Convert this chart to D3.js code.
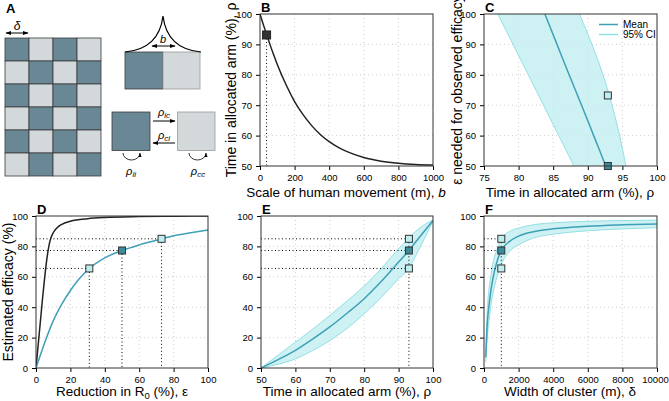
<!DOCTYPE html>
<html><head><meta charset="utf-8">
<script src="https://cdn.jsdelivr.net/npm/d3@7"></script>
<style>
body{margin:0;background:#fff;}
text{font-family:"Liberation Sans",Arial,sans-serif;fill:#000;}
</style></head>
<body><svg id="c" width="669" height="401"></svg>
<script>
// ---------- DATA ----------
// Panel B: time in allocated arm vs scale of human movement
const bMove = [0,20,40,60,80,100,150,200,250,300,350,400,450,500,600,700,800,900,1000];
const rhoB  = [100,96.4,93,89.6,86.4,83.4,76.8,71.2,66.8,63.2,60.3,58,56.2,54.8,52.8,51.6,50.9,50.5,50.3];
const pointB = {b:38, rho:93.1};
// Panel C: epsilon needed vs rho
const epsC      = [50,60,70,80,90,100];
const meanRhoC  = [92.6,90.85,89.1,87.3,85.55,83.8];
const lowRhoC   = [88.0,85.8,83.6,81.4,79.2,77.0];
const highRhoC  = [95.5,94.6,93.5,92.2,90.6,88.8];
const pointsC = [{rho:92.9, eps:73.2, dark:false},{rho:92.9, eps:50, dark:true}];
const legendC = ["Mean","95% CI"];
// Panel D: estimated efficacy vs reduction in R0
const epsBlack = [0,1,2,3,4,5,6,7,8,10,12,15,20,30,40,60,80,100];
const effBlack = [0,12,24,36,48,59,69,77,83,89,92,94.5,96.5,98.2,99,99.6,99.9,100];
const epsTeal  = [0,5,10,15,20,25,31,40,50,60,73,80,90,100];
const effTeal  = [0,16.5,31,42,51,58.5,65.5,72.5,77.3,81,85,87,89,90.8];
const pointsD = [{x:31,y:65.5,dark:false},{x:50,y:77.3,dark:true},{x:73,y:85,dark:false}];
// Panel E: efficacy vs rho
const rhoE  = [50,55,60,65,70,75,80,85,90,93,95,100];
const meanE = [0,5.5,11.6,19,27,36,45.6,57,69.7,77.3,83,97];
const hiE   = [0,8.5,17,25.5,34.6,44,54,65.5,78.5,85.5,90,97.5];
const loE   = [0,2.5,6,11.5,18,26,35.7,46.5,58.8,65.5,74,96.5];
const pointsE = [{x:93,y:85,dark:false},{x:93,y:77.3,dark:true},{x:93,y:65.5,dark:false}];
// Panel F: efficacy vs cluster width
const deltaF = [100,200,300,400,500,750,1000,1500,2000,3000,4000,6000,8000,10000];
const meanF  = [7,31,42,51,58,70,77.3,83.5,86.8,90,91.6,93.3,94.2,94.8];
const hiF    = [10,40,53,61,68,78,85,90,92,94.5,95.5,96.5,97,97.3];
const loF    = [4,21,32,41,48,60,68,77,81,86,88,90.3,91.5,92.3];
const pointsF = [{x:1000,y:85,dark:false},{x:1000,y:77.3,dark:true},{x:1000,y:65.5,dark:false}];
// ticks
const ticksB_x=[0,200,400,600,800,1000], ticksB_y=[50,60,70,80,90,100];
const ticksC_x=[75,80,85,90,95,100], ticksC_y=[50,60,70,80,90,100];
const ticksD_x=[0,20,40,60,80,100], ticksEff=[0,20,40,60,80,100];
const ticksE_x=[50,60,70,80,90,100];
const ticksF_x=[0,2000,4000,6000,8000,10000];

// ---------- STYLE ----------
const TEAL="#3f9fb7", DARKM="#3a8c9c", LIGHTM="#bfeef0", BAND="#c2eff1", BANDEDGE="#93e0e4";
const XLF=13.5, TF=9.5;
const svg=d3.select("#c");
const defs=svg.append("defs");
defs.append("marker").attr("id","ah").attr("viewBox","0 0 10 10").attr("refX",9).attr("refY",5)
  .attr("markerWidth",6).attr("markerHeight",6).attr("orient","auto-start-reverse")
  .append("path").attr("d","M0,1.5L10,5L0,8.5Z").attr("fill","#000");

let clipId=0;
function panel(o){
  const x=d3.scaleLinear().domain(o.xd).range([o.x0,o.x1]);
  const y=d3.scaleLinear().domain(o.yd).range([o.y1,o.y0]);
  const g=svg.append("g");
  o.xt.forEach(t=>{ if(t!==o.xd[0]&&t!==o.xd[1]) g.append("line").attr("x1",x(t)).attr("x2",x(t)).attr("y1",o.y0).attr("y2",o.y1)
      .attr("stroke","#d0d0d0").attr("stroke-dasharray","1,3");});
  o.yt.forEach(t=>{ if(t!==o.yd[0]&&t!==o.yd[1]) g.append("line").attr("y1",y(t)).attr("y2",y(t)).attr("x1",o.x0).attr("x2",o.x1)
      .attr("stroke","#d0d0d0").attr("stroke-dasharray","1,3");});
  const id="clip"+(clipId++);
  defs.append("clipPath").attr("id",id).append("rect").attr("x",o.x0).attr("y",o.y0).attr("width",o.x1-o.x0).attr("height",o.y1-o.y0);
  const inner=svg.append("g").attr("clip-path",`url(#${id})`);
  const over=svg.append("g");
  const ax=svg.append("g").attr("transform",`translate(0,${o.y1})`)
    .call(d3.axisBottom(x).tickValues(o.xt).tickSize(4).tickPadding(3).tickFormat(d3.format("d")));
  const ay=svg.append("g").attr("transform",`translate(${o.x0},0)`)
    .call(d3.axisLeft(y).tickValues(o.yt).tickSize(4).tickPadding(4).tickFormat(d3.format("d")));
  [ax,ay].forEach(a=>{a.selectAll("text").attr("font-size",TF).attr("font-family","Liberation Sans, Arial, sans-serif").attr("fill","#000");
     a.select(".domain").remove(); a.selectAll("line").attr("stroke","#000");});
  ax.selectAll("text").attr("dy","0.85em");
  if(o.lastShift) ax.selectAll("text").filter(d=>d===o.xd[1]).attr("dx",o.lastShift);
  svg.append("rect").attr("x",o.x0).attr("y",o.y0).attr("width",o.x1-o.x0).attr("height",o.y1-o.y0)
    .attr("fill","none").attr("stroke","#333").attr("stroke-width",1);
  svg.append("text").attr("x",o.x0+1).attr("y",o.y0-2).attr("font-size",13).attr("font-weight","bold").text(o.letter);
  return {x,y,inner,over};
}
function marker(g,px,py,dark){
  g.append("rect").attr("x",px-3.5).attr("y",py-3.5).attr("width",7).attr("height",7)
   .attr("fill",dark?DARKM:LIGHTM).attr("stroke","#333").attr("stroke-width",1);
}
function dotted(g,x1,y1,x2,y2){
  g.append("line").attr("x1",x1).attr("y1",y1).attr("x2",x2).attr("y2",y2)
   .attr("stroke","#000").attr("stroke-width",1).attr("stroke-dasharray","1,2.5");
}
function xlabel(cx,y,parts){
  const t=svg.append("text").attr("x",cx).attr("y",y).attr("text-anchor","middle").attr("font-size",XLF);
  parts.forEach(p=>{const s=t.append("tspan").text(p.t); if(p.i) s.attr("font-style","italic");});
}
function ylabel(x,cy,txt){
  svg.append("text").attr("transform",`translate(${x},${cy}) rotate(-90)`).attr("text-anchor","middle").attr("font-size",14).text(txt);
}

// ---------- PANEL A (schematic) ----------
(function(){
  svg.append("text").attr("x",6).attr("y",13).attr("font-size",13).attr("font-weight","bold").text("A");
  const cw=24, ch=23, X0=5, Y0=38;
  for(let r=0;r<6;r++)for(let c=0;c<4;c++){
    svg.append("rect").attr("x",X0+c*cw).attr("y",Y0+r*ch).attr("width",cw).attr("height",ch)
      .attr("fill",(r+c)%2===0?"#6a8795":"#d3d9db").attr("stroke","#3a3a3a").attr("stroke-width",0.8);
  }
  svg.append("line").attr("x1",6).attr("x2",28).attr("y1",33).attr("y2",33).attr("stroke","#000")
    .attr("marker-start","url(#ah)").attr("marker-end","url(#ah)");
  svg.append("text").attr("x",17).attr("y",30).attr("text-anchor","middle").attr("font-size",12).attr("font-style","italic").text("δ");
  svg.append("rect").attr("x",125).attr("y",52).attr("width",38).attr("height",37).attr("fill","#6a8795").attr("stroke","#3a3a3a").attr("stroke-width",0.8);
  svg.append("rect").attr("x",163).attr("y",52).attr("width",37).attr("height",37).attr("fill","#d3d9db").attr("stroke","#999").attr("stroke-width",0.8);
  svg.append("path").attr("d","M125,52 Q159,49 163,16 Q167,49 201,52").attr("fill","none").attr("stroke","#000").attr("stroke-width",1.2);
  svg.append("line").attr("x1",152).attr("x2",175).attr("y1",46).attr("y2",46).attr("stroke","#000")
    .attr("marker-start","url(#ah)").attr("marker-end","url(#ah)");
  svg.append("text").attr("x",163).attr("y",43).attr("text-anchor","middle").attr("font-size",11).attr("font-style","italic").text("b");
  svg.append("rect").attr("x",112).attr("y",112).attr("width",38).attr("height",38.5).attr("fill","#6a8795").attr("stroke","#3a3a3a").attr("stroke-width",0.8);
  svg.append("rect").attr("x",177.5).attr("y",112).attr("width",37.5).attr("height",38.5).attr("fill","#d3d9db").attr("stroke","#999").attr("stroke-width",0.8);
  svg.append("line").attr("x1",153).attr("x2",175).attr("y1",121).attr("y2",121).attr("stroke","#000").attr("marker-end","url(#ah)");
  svg.append("line").attr("x1",175).attr("x2",153).attr("y1",143).attr("y2",143).attr("stroke","#000").attr("marker-end","url(#ah)");
  function rho(x,y,sub){const t=svg.append("text").attr("x",x).attr("y",y).attr("text-anchor","middle").attr("font-size",11).attr("font-style","italic");
    t.append("tspan").text("ρ"); t.append("tspan").attr("font-size",8).attr("dy",2).text(sub);}
  rho(164,116,"ic"); rho(164,139,"ci"); rho(131,175,"ii"); rho(198,175,"cc");
  svg.append("path").attr("d","M123,153 A8.5,7 0 0 0 140,153").attr("fill","none").attr("stroke","#000").attr("stroke-width",0.8).attr("marker-end","url(#ah)");
  svg.append("path").attr("d","M189,153 A8.5,7 0 0 0 206,153").attr("fill","none").attr("stroke","#000").attr("stroke-width",0.8).attr("marker-end","url(#ah)");
})();

// ---------- PANEL B ----------
(function(){
  const p=panel({xd:[0,1000],yd:[50,100],x0:260,x1:433,y0:14,y1:166,xt:ticksB_x,yt:ticksB_y,letter:"B"});
  const line=d3.line().x((d,i)=>p.x(bMove[i])).y(d=>p.y(d)).curve(d3.curveMonotoneX);
  p.inner.append("path").attr("d",line(rhoB)).attr("fill","none").attr("stroke","#222").attr("stroke-width",1.5);
  dotted(p.over,p.x(pointB.b),p.y(pointB.rho),p.x(pointB.b),166);
  p.over.append("rect").attr("x",p.x(pointB.b)-4).attr("y",p.y(pointB.rho)-4).attr("width",8).attr("height",8).attr("fill","#333").attr("stroke","#222");
  ylabel(236,90,"Time in allocated arm (%), ρ");
  xlabel(346,197,[{t:"Scale of human movement (m), "},{t:"b",i:true}]);
})();

// ---------- PANEL C ----------
(function(){
  const p=panel({xd:[75,100],yd:[50,100],x0:484,x1:657,y0:14,y1:166,xt:ticksC_x,yt:ticksC_y,letter:"C"});
  const area=d3.area().y((d,i)=>p.y(epsC[i])).x0((d,i)=>p.x(lowRhoC[i])).x1((d,i)=>p.x(highRhoC[i])).curve(d3.curveMonotoneY);
  p.inner.append("path").attr("d",area(epsC)).attr("fill",BAND).attr("fill-opacity",0.8);
  const lo=d3.line().y((d,i)=>p.y(epsC[i])).x(d=>p.x(d)).curve(d3.curveMonotoneY);
  p.inner.append("path").attr("d",lo(lowRhoC)).attr("fill","none").attr("stroke",BANDEDGE).attr("stroke-width",1);
  p.inner.append("path").attr("d",lo(highRhoC)).attr("fill","none").attr("stroke",BANDEDGE).attr("stroke-width",1);
  p.inner.append("path").attr("d",lo(meanRhoC)).attr("fill","none").attr("stroke",TEAL).attr("stroke-width",1.5);
  pointsC.forEach(d=>marker(p.over,p.x(d.rho),p.y(d.eps),d.dark));
  const lg=svg.append("g");
  lg.append("line").attr("x1",599).attr("x2",618).attr("y1",24.5).attr("y2",24.5).attr("stroke",TEAL).attr("stroke-width",1.5);
  lg.append("line").attr("x1",599).attr("x2",618).attr("y1",34.5).attr("y2",34.5).attr("stroke",BANDEDGE).attr("stroke-width",1.5);
  lg.append("text").attr("x",623).attr("y",28).attr("font-size",10).text(legendC[0]);
  lg.append("text").attr("x",623).attr("y",38).attr("font-size",10).text(legendC[1]);
  ylabel(462,90,"ε needed for observed efficacy");
  xlabel(570,197,[{t:"Time in allocated arm (%), ρ"}]);
})();

// ---------- PANEL D ----------
(function(){
  const p=panel({xd:[0,100],yd:[0,100],x0:36,x1:208,y0:216,y1:368,xt:ticksD_x,yt:ticksEff,letter:"D"});
  const lb=d3.line().x((d,i)=>p.x(epsBlack[i])).y(d=>p.y(d)).curve(d3.curveMonotoneX);
  p.inner.append("path").attr("d",lb(effBlack)).attr("fill","none").attr("stroke","#222").attr("stroke-width",1.5);
  const lt=d3.line().x((d,i)=>p.x(epsTeal[i])).y(d=>p.y(d)).curve(d3.curveMonotoneX);
  p.inner.append("path").attr("d",lt(effTeal)).attr("fill","none").attr("stroke",TEAL).attr("stroke-width",1.5);
  pointsD.forEach(d=>{dotted(p.over,p.x(0),p.y(d.y),p.x(d.x),p.y(d.y)); dotted(p.over,p.x(d.x),p.y(d.y),p.x(d.x),368);});
  pointsD.forEach(d=>marker(p.over,p.x(d.x),p.y(d.y),d.dark));
  ylabel(13,292,"Estimated efficacy (%)");
  const t=svg.append("text").attr("x",122).attr("y",396).attr("text-anchor","middle").attr("font-size",XLF);
  t.append("tspan").text("Reduction in R");
  t.append("tspan").attr("font-size",9.5).attr("dy",2.5).text("0");
  t.append("tspan").attr("dy",-2.5).text(" (%), ε");
})();

// ---------- PANEL E ----------
(function(){
  const p=panel({xd:[50,100],yd:[0,100],x0:261,x1:433,y0:216,y1:368,xt:ticksE_x,yt:ticksEff,letter:"E"});
  const area=d3.area().x((d,i)=>p.x(rhoE[i])).y0((d,i)=>p.y(loE[i])).y1((d,i)=>p.y(hiE[i])).curve(d3.curveMonotoneX);
  p.inner.append("path").attr("d",area(rhoE)).attr("fill",BAND).attr("fill-opacity",0.8);
  const l=d3.line().x((d,i)=>p.x(rhoE[i])).y(d=>p.y(d)).curve(d3.curveMonotoneX);
  p.inner.append("path").attr("d",l(hiE)).attr("fill","none").attr("stroke",BANDEDGE);
  p.inner.append("path").attr("d",l(loE)).attr("fill","none").attr("stroke",BANDEDGE);
  p.inner.append("path").attr("d",l(meanE)).attr("fill","none").attr("stroke",TEAL).attr("stroke-width",1.5);
  pointsE.forEach(d=>dotted(p.over,p.x(50),p.y(d.y),p.x(d.x),p.y(d.y)));
  dotted(p.over,p.x(93),p.y(85),p.x(93),368);
  pointsE.forEach(d=>marker(p.over,p.x(d.x),p.y(d.y),d.dark));
  xlabel(347,396,[{t:"Time in allocated arm (%), ρ"}]);
})();

// ---------- PANEL F ----------
(function(){
  const p=panel({xd:[0,10000],yd:[0,100],x0:484,x1:657,y0:216,y1:368,xt:ticksF_x,yt:ticksEff,letter:"F",lastShift:-2});
  const area=d3.area().x((d,i)=>p.x(deltaF[i])).y0((d,i)=>p.y(loF[i])).y1((d,i)=>p.y(hiF[i])).curve(d3.curveMonotoneX);
  p.inner.append("path").attr("d",area(deltaF)).attr("fill",BAND).attr("fill-opacity",0.8);
  const l=d3.line().x((d,i)=>p.x(deltaF[i])).y(d=>p.y(d)).curve(d3.curveMonotoneX);
  p.inner.append("path").attr("d",l(hiF)).attr("fill","none").attr("stroke",BANDEDGE);
  p.inner.append("path").attr("d",l(loF)).attr("fill","none").attr("stroke",BANDEDGE);
  p.inner.append("path").attr("d",l(meanF)).attr("fill","none").attr("stroke",TEAL).attr("stroke-width",1.5);
  pointsF.forEach(d=>dotted(p.over,p.x(0),p.y(d.y),p.x(d.x),p.y(d.y)));
  dotted(p.over,p.x(1000),p.y(85),p.x(1000),368);
  pointsF.forEach(d=>marker(p.over,p.x(d.x),p.y(d.y),d.dark));
  xlabel(570,396,[{t:"Width of cluster (m), δ"}]);
})();
</script></body></html>
